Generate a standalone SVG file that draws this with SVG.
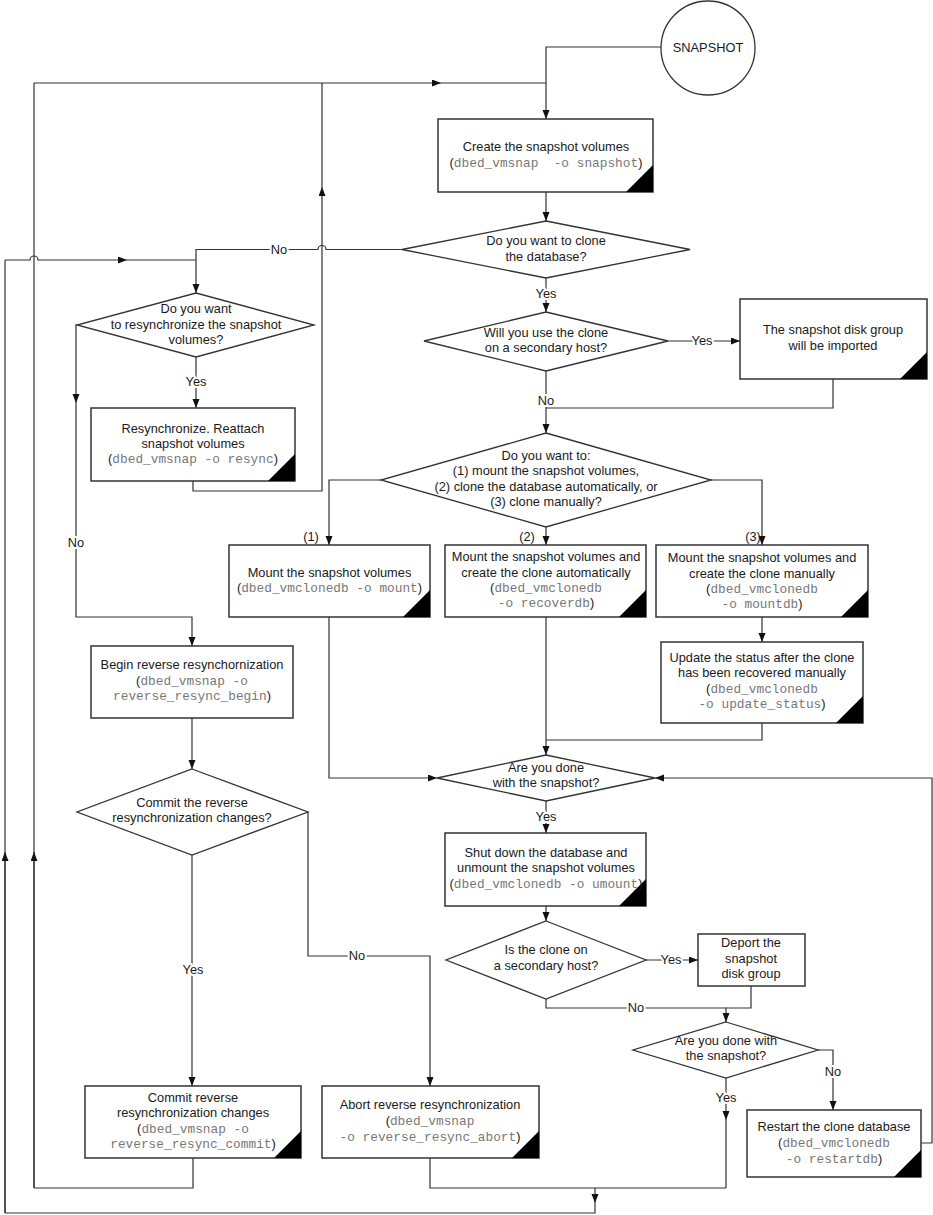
<svg xmlns="http://www.w3.org/2000/svg" width="933" height="1215" viewBox="0 0 933 1215">
<defs>
<marker id="ah" markerUnits="userSpaceOnUse" markerWidth="10" markerHeight="8" refX="9" refY="3.5" orient="auto">
<path d="M0,0 L9,3.5 L0,7 z" fill="#111"/>
</marker>
<style>
.bx{fill:#fff;stroke:#333;stroke-width:1.5}
.dm{fill:#fff;stroke:#333;stroke-width:1.3}
.tri{fill:#000}
.ln{fill:none;stroke:#333;stroke-width:1.2}
.ar{fill:none;stroke:#333;stroke-width:1.2;marker-end:url(#ah)}
text{font-family:"Liberation Sans",Arial,sans-serif;font-size:12.8px;fill:#1a1a1a;text-anchor:middle}
.m{font-family:"Liberation Mono","Courier New",monospace;fill:#777}
.lb{stroke:#fff;stroke-width:4;paint-order:stroke;stroke-linejoin:round}
</style>
</defs>
<rect width="933" height="1215" fill="#fff"/>

<g id="connectors">
<path class="ar" d="M661,47 L546,47 L546,119"/>
<path class="ar" d="M34,83 L441,83"/>
<path class="ln" d="M441,83 L546,83"/>
<path class="ar" d="M546,192 L546,221"/>
<path class="ar" d="M402,249.5 L326,249.5 A4,4 0 0 0 318,249.5 L196,249.5 L196,293"/>
<path class="ar" d="M546,278 L546,312"/>
<path class="ar" d="M5,260 L30,260 A4,4 0 0 1 38,260 L127,260"/>
<path class="ln" d="M127,260 L196,260"/>
<path class="ln" d="M5,1213 L5,260"/>
<path class="ar" d="M5,1213 L5,852"/>
<path class="ln" d="M34,1188 L34,83"/>
<path class="ar" d="M34,1188 L34,852"/>
<path class="ar" d="M196,357 L196,408"/>
<path class="ar" d="M77,325 L76,325 L76,403"/>
<path class="ar" d="M76,403 L76,617 L192,617 L192,646"/>
<path class="ar" d="M193,481 L193,491 L322,491 L322,187"/>
<path class="ln" d="M322,187 L322,83"/>
<path class="ar" d="M668,341 L740,341"/>
<path class="ln" d="M833,379 L833,408 L546,408"/>
<path class="ar" d="M546,371 L546,433"/>
<path class="ar" d="M381,480 L329,480 L329,545"/>
<path class="ar" d="M546,527 L546,545"/>
<path class="ar" d="M711,480 L762,480 L762,545"/>
<path class="ar" d="M329,617 L329,778 L437,778"/>
<path class="ar" d="M546,617 L546,755"/>
<path class="ar" d="M762,617 L762,642"/>
<path class="ln" d="M762,723 L762,740 L546,740"/>
<path class="ar" d="M192,718 L192,769"/>
<path class="ar" d="M546,801 L546,833"/>
<path class="ar" d="M308,812 L308,956 L430,956 L430,1086"/>
<path class="ar" d="M192,855 L192,1086"/>
<path class="ar" d="M546,906 L546,921"/>
<path class="ar" d="M646,960 L698,960"/>
<path class="ln" d="M751,986 L751,1008 L726,1008"/>
<path class="ar" d="M546,999 L546,1008 L726,1008 L726,1022"/>
<path class="ar" d="M818,1050 L833,1050 L833,1110"/>
<path class="ar" d="M726,1078 L726,1120"/>
<path class="ln" d="M726,1120 L726,1188"/>
<path class="ln" d="M430,1158 L430,1188 L726,1188"/>
<path class="ar" d="M595,1188 L595,1203"/>
<path class="ln" d="M595,1203 L595,1213 L5,1213"/>
<path class="ln" d="M193,1158 L193,1188 L34,1188"/>
<path class="ar" d="M921,1143 L932,1143 L932,778 L655,778"/>
<text class="lb" x="279" y="254">No</text>
<text class="lb" x="546" y="298">Yes</text>
<text class="lb" x="196" y="386">Yes</text>
<text class="lb" x="76" y="547">No</text>
<text class="lb" x="702" y="345">Yes</text>
<text class="lb" x="546" y="405">No</text>
<text x="311" y="541">(1)</text>
<text x="527" y="541">(2)</text>
<text x="753" y="541">(3)</text>
<text class="lb" x="546" y="821">Yes</text>
<text class="lb" x="357" y="960">No</text>
<text class="lb" x="193" y="974">Yes</text>
<text class="lb" x="671" y="964">Yes</text>
<text class="lb" x="636" y="1012">No</text>
<text class="lb" x="833" y="1076">No</text>
<text class="lb" x="726" y="1102">Yes</text>
</g>

<g id="snapshot">
<circle cx="708" cy="48" r="47" fill="#fff" stroke="#333" stroke-width="1.3"/>
<text x="708" y="52">SNAPSHOT</text>
</g>

<g id="create">
<rect class="bx" x="438" y="119" width="215" height="73"/>
<path class="tri" d="M626,192 L653,165 L653,192 Z"/>
<text x="546" y="151">Create the snapshot volumes</text>
<text x="546" y="167">(<tspan class="m">dbed_vmsnap&#160; -o snapshot</tspan>)</text>
</g>

<g id="clone-q">
<polygon class="dm" points="546,221 690,249.5 546,278 402,249.5"/>
<text x="546" y="245">Do you want to clone</text>
<text x="546" y="261">the database?</text>
</g>

<g id="resync-q">
<polygon class="dm" points="196,293 314,325 196,357 77,325"/>
<text x="196" y="313">Do you want</text>
<text x="196" y="329">to resynchronize the snapshot</text>
<text x="196" y="344">volumes?</text>
</g>

<g id="resync">
<rect class="bx" x="91" y="408" width="204" height="73"/>
<path class="tri" d="M268,481 L295,454 L295,481 Z"/>
<text x="193" y="433">Resynchronize. Reattach</text>
<text x="193" y="448">snapshot volumes</text>
<text x="193" y="463">(<tspan class="m">dbed_vmsnap -o resync</tspan>)</text>
</g>

<g id="secondary-q">
<polygon class="dm" points="546,312 668,341 546,371 424,341"/>
<text x="546" y="337">Will you use the clone</text>
<text x="546" y="352">on a secondary host?</text>
</g>

<g id="imported">
<rect class="bx" x="740" y="299" width="187" height="80"/>
<path class="tri" d="M900,379 L927,352 L927,379 Z"/>
<text x="833" y="334">The snapshot disk group</text>
<text x="833" y="350">will be imported</text>
</g>

<g id="choice-q">
<polygon class="dm" points="546,433 711,480 546,527 381,480"/>
<text x="546" y="460">Do you want to:</text>
<text x="546" y="475">(1) mount the snapshot volumes,</text>
<text x="546" y="491">(2) clone the database automatically, or</text>
<text x="546" y="506">(3) clone manually?</text>
</g>

<g id="mount">
<rect class="bx" x="229" y="545" width="201" height="72"/>
<path class="tri" d="M403,617 L430,590 L430,617 Z"/>
<text x="329.5" y="577">Mount the snapshot volumes</text>
<text x="329.5" y="592">(<tspan class="m">dbed_vmclonedb -o mount</tspan>)</text>
</g>

<g id="recoverdb">
<rect class="bx" x="445" y="545" width="201" height="72"/>
<path class="tri" d="M619,617 L646,590 L646,617 Z"/>
<text x="546" y="561">Mount the snapshot volumes and</text>
<text x="546" y="577">create the clone automatically</text>
<text x="546" y="592">(<tspan class="m">dbed_vmclonedb</tspan></text>
<text x="546" y="607"><tspan class="m">-o recoverdb</tspan>)</text>
</g>

<g id="mountdb">
<rect class="bx" x="656" y="545" width="212" height="72"/>
<path class="tri" d="M841,617 L868,590 L868,617 Z"/>
<text x="762" y="562">Mount the snapshot volumes and</text>
<text x="762" y="578">create the clone manually</text>
<text x="762" y="593">(<tspan class="m">dbed_vmclonedb</tspan></text>
<text x="762" y="608"><tspan class="m">-o mountdb</tspan>)</text>
</g>

<g id="update">
<rect class="bx" x="661" y="642" width="202" height="81"/>
<path class="tri" d="M836,723 L863,696 L863,723 Z"/>
<text x="762" y="662">Update the status after the clone</text>
<text x="762" y="677">has been recovered manually</text>
<text x="762" y="693">(<tspan class="m">dbed_vmclonedb</tspan></text>
<text x="762" y="708"><tspan class="m">-o update_status</tspan>)</text>
</g>

<g id="begin">
<rect class="bx" x="91" y="646" width="202" height="72"/>
<text x="192" y="669">Begin reverse resynchornization</text>
<text x="192" y="685">(<tspan class="m">dbed_vmsnap -o</tspan></text>
<text x="192" y="700"><tspan class="m">reverse_resync_begin</tspan>)</text>
</g>

<g id="done-q">
<polygon class="dm" points="546,755 655,778 546,801 437,778"/>
<text x="546" y="772">Are you done</text>
<text x="546" y="787">with the snapshot?</text>
</g>

<g id="commit-q">
<polygon class="dm" points="192,769 308,812 192,855 77,812"/>
<text x="192" y="807">Commit the reverse</text>
<text x="192" y="822">resynchronization changes?</text>
</g>

<g id="shutdown">
<rect class="bx" x="445" y="833" width="201" height="73"/>
<path class="tri" d="M619,906 L646,879 L646,906 Z"/>
<text x="546" y="857">Shut down the database and</text>
<text x="546" y="872">unmount the snapshot volumes</text>
<text x="546" y="888">(<tspan class="m">dbed_vmclonedb -o umount</tspan>)</text>
</g>

<g id="host-q">
<polygon class="dm" points="546,921 646,960 546,999 446,960"/>
<text x="546" y="954">Is the clone on</text>
<text x="546" y="970">a secondary host?</text>
</g>

<g id="deport">
<rect class="bx" x="698" y="934" width="107" height="52"/>
<text x="751" y="947">Deport the</text>
<text x="751" y="963">snapshot</text>
<text x="751" y="978">disk group</text>
</g>

<g id="done2-q">
<polygon class="dm" points="726,1022 818,1050 726,1078 633,1050"/>
<text x="726" y="1045">Are you done with</text>
<text x="726" y="1060">the snapshot?</text>
</g>

<g id="commit">
<rect class="bx" x="85" y="1086" width="216" height="72"/>
<path class="tri" d="M274,1158 L301,1131 L301,1158 Z"/>
<text x="193" y="1102">Commit reverse</text>
<text x="193" y="1117">resynchronization changes</text>
<text x="193" y="1133">(<tspan class="m">dbed_vmsnap -o</tspan></text>
<text x="193" y="1148"><tspan class="m">reverse_resync_commit</tspan>)</text>
</g>

<g id="abort">
<rect class="bx" x="322" y="1086" width="217" height="72"/>
<path class="tri" d="M512,1158 L539,1131 L539,1158 Z"/>
<text x="430" y="1109">Abort reverse resynchronization</text>
<text x="430" y="1125">(<tspan class="m">dbed_vmsnap</tspan></text>
<text x="430" y="1141"><tspan class="m">-o reverse_resync_abort</tspan>)</text>
</g>

<g id="restart">
<rect class="bx" x="747" y="1110" width="174" height="67"/>
<path class="tri" d="M894,1177 L921,1150 L921,1177 Z"/>
<text x="834" y="1131">Restart the clone database</text>
<text x="834" y="1147">(<tspan class="m">dbed_vmclonedb</tspan></text>
<text x="834" y="1163"><tspan class="m">-o restartdb</tspan>)</text>
</g>
</svg>
